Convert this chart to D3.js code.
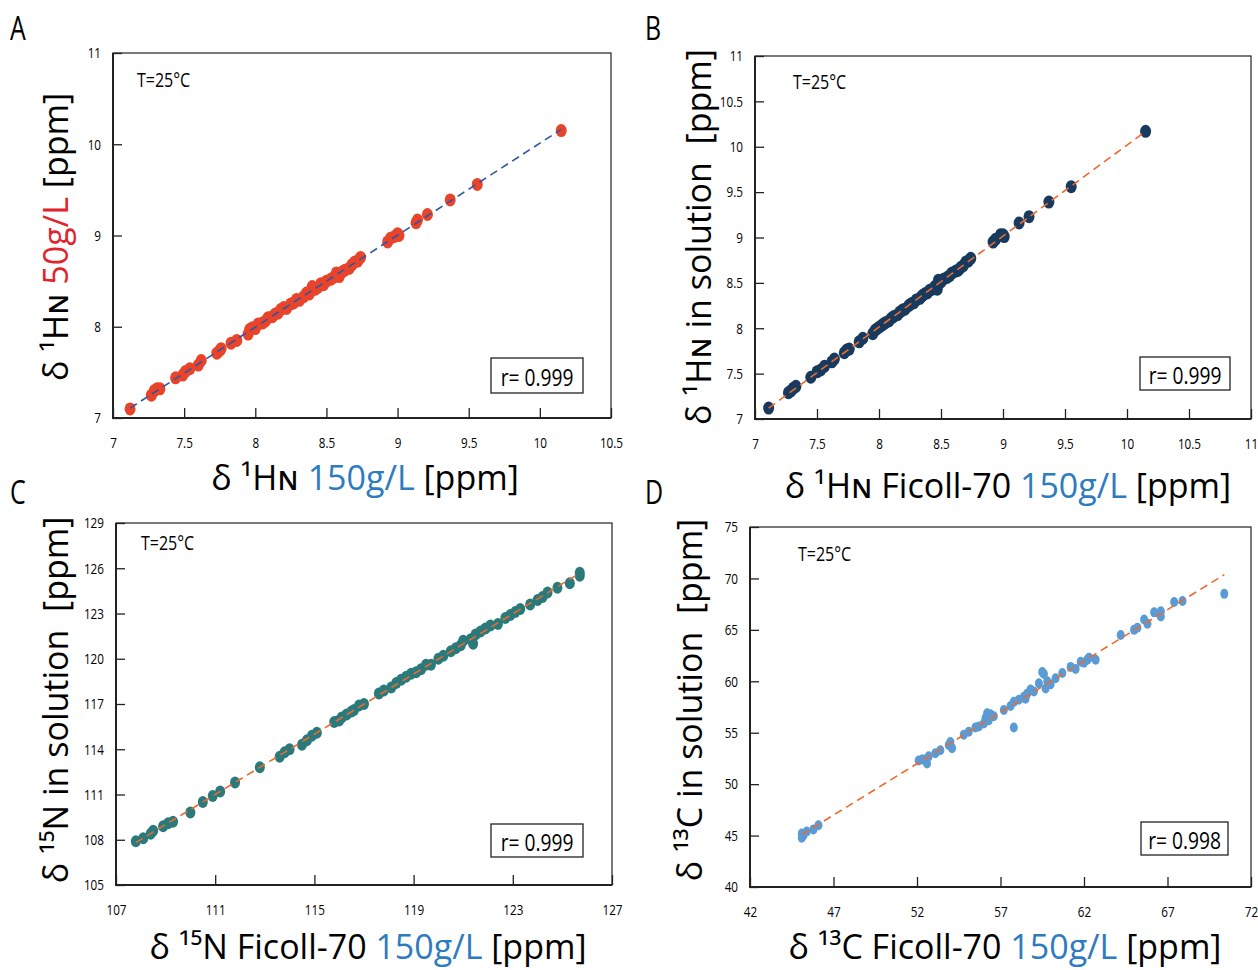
<!DOCTYPE html>
<html>
<head>
<meta charset="utf-8">
<script src="https://cdn.jsdelivr.net/npm/d3@7"></script>
<style>
  body { margin: 0; background: #fff; }
  svg { display: block; }
  .tick text { font-family: "Open Sans", "Noto Sans", sans-serif; font-size: 15px; fill: #000; }
  .big { font-family: "Open Sans", "Noto Sans", "DejaVu Sans", sans-serif; font-size: 34px; fill: #000; white-space: pre; }
  .small { font-family: "Open Sans", "Noto Sans", sans-serif; fill: #000; }
</style>
</head>
<body>
<div id="chart"></div>
<script>
// Panel A: delta 1HN at 150 g/L (x) vs 50 g/L (y)
var hA_x = [7.12, 7.27, 7.29, 7.31, 7.33, 7.44, 7.49, 7.51, 7.54, 7.60, 7.62, 7.73, 7.75, 7.76, 7.83, 7.87,
            7.95, 7.96, 7.98, 8.00, 8.02, 8.05, 8.07, 8.09, 8.12, 8.14, 8.16, 8.18, 8.20, 8.22, 8.25, 8.27,
            8.29, 8.31, 8.34, 8.36, 8.38, 8.40, 8.42, 8.44, 8.46, 8.48, 8.50, 8.53, 8.55, 8.57, 8.59, 8.61,
            8.63, 8.66, 8.68, 8.70, 8.72, 8.74, 8.93, 8.95, 8.98, 9.00, 9.01, 9.13, 9.14, 9.21, 9.37, 9.56, 10.15]
var hA_y = [7.10, 7.25, 7.30, 7.32, 7.32, 7.44, 7.47, 7.51, 7.54, 7.58, 7.63, 7.71, 7.74, 7.76, 7.82, 7.85,
            7.92, 7.97, 7.99, 7.98, 8.03, 8.04, 8.06, 8.10, 8.11, 8.14, 8.15, 8.19, 8.21, 8.20, 8.25, 8.26,
            8.30, 8.29, 8.33, 8.37, 8.36, 8.44, 8.41, 8.43, 8.47, 8.46, 8.50, 8.52, 8.54, 8.59, 8.55, 8.60,
            8.62, 8.64, 8.68, 8.71, 8.72, 8.76, 8.93, 8.97, 8.99, 9.02, 9.00, 9.14, 9.17, 9.23, 9.39, 9.56, 10.15]

// Panel B: delta 1HN in Ficoll-70 150 g/L (x) vs in solution (y)
var hB_x = [7.11, 7.27, 7.29, 7.31, 7.33, 7.45, 7.50, 7.53, 7.56, 7.62, 7.64, 7.72, 7.74, 7.76, 7.84, 7.87,
            7.95, 7.97, 7.99, 8.01, 8.03, 8.05, 8.08, 8.10, 8.12, 8.15, 8.17, 8.19, 8.21, 8.24, 8.26, 8.28,
            8.30, 8.33, 8.35, 8.37, 8.39, 8.41, 8.43, 8.45, 8.47, 8.48, 8.50, 8.52, 8.55, 8.57, 8.59, 8.62,
            8.64, 8.66, 8.68, 8.70, 8.72, 8.74, 8.92, 8.94, 8.98, 9.00, 9.01, 9.13, 9.21, 9.37, 9.55, 10.15]
var hB_y = [7.12, 7.29, 7.31, 7.34, 7.36, 7.46, 7.52, 7.54, 7.58, 7.63, 7.66, 7.73, 7.76, 7.77, 7.85, 7.89,
            7.94, 7.98, 8.00, 8.02, 8.04, 8.06, 8.08, 8.11, 8.13, 8.15, 8.18, 8.20, 8.21, 8.25, 8.27, 8.28,
            8.31, 8.33, 8.36, 8.38, 8.39, 8.42, 8.43, 8.46, 8.43, 8.53, 8.51, 8.54, 8.56, 8.58, 8.61, 8.63,
            8.64, 8.67, 8.69, 8.73, 8.74, 8.77, 8.95, 8.98, 9.03, 9.03, 9.01, 9.16, 9.23, 9.39, 9.56, 10.17]

// Panel C: delta 15N in Ficoll-70 150 g/L (x) vs in solution (y)
var n15_x = [107.8, 108.1, 108.4, 108.5, 108.9, 109.1, 109.3, 110.0, 110.5, 110.9, 111.2, 111.8, 112.8, 113.6,
             113.8, 114.0, 114.5, 114.7, 114.9, 115.1, 115.8, 116.0, 116.1, 116.3, 116.5, 116.6, 116.8, 117.0,
             117.6, 117.8, 118.1, 118.3, 118.5, 118.7, 118.9, 119.1, 119.3, 119.5, 119.7, 120.0, 120.2, 120.5,
             120.7, 120.9, 121.0, 121.3, 121.4, 121.5, 121.7, 121.9, 122.1, 122.4, 122.7, 122.9, 123.1, 123.3,
             123.7, 124.0, 124.2, 124.4, 124.8, 125.3, 125.7, 125.7]
var n15_y = [107.9, 108.1, 108.4, 108.6, 108.9, 109.1, 109.2, 109.8, 110.5, 110.9, 111.2, 111.8, 112.8, 113.5,
             113.8, 114.0, 114.3, 114.6, 114.9, 115.1, 115.8, 115.9, 116.1, 116.3, 116.5, 116.6, 116.9, 117.0,
             117.7, 117.9, 118.1, 118.4, 118.6, 118.8, 119.0, 119.1, 119.3, 119.6, 119.6, 120.0, 120.2, 120.5,
             120.7, 120.9, 121.2, 121.3, 121.0, 121.6, 121.8, 122.0, 122.2, 122.3, 122.7, 122.9, 123.1, 123.3,
             123.6, 123.9, 124.1, 124.4, 124.7, 125.0, 125.5, 125.7]

// Panel D: delta 13C in Ficoll-70 150 g/L (x) vs in solution (y)
var c13_x = [45.1, 45.1, 45.2, 45.4, 45.8, 46.1, 52.1, 52.3, 52.4, 52.6, 52.7, 53.1, 53.4, 53.9, 54.0, 54.1,
             54.8, 55.1, 55.5, 55.7, 56.0, 56.1, 56.2, 56.3, 56.4, 56.6, 57.2, 57.6, 57.8, 57.8, 58.1, 58.4,
             58.5, 58.6, 58.8, 59.0, 59.3, 59.5, 59.6, 59.7, 59.8, 60.0, 60.3, 60.7, 61.2, 61.5, 61.8, 62.0,
             62.2, 62.3, 62.7, 64.2, 65.0, 65.2, 65.6, 65.8, 66.2, 66.6, 66.6, 67.4, 67.9, 70.4]
var c13_y = [44.8, 45.2, 45.0, 45.4, 45.6, 46.0, 52.3, 52.4, 52.4, 52.0, 52.7, 53.0, 53.3, 53.8, 54.1, 53.5,
             54.8, 55.1, 55.5, 55.6, 55.9, 56.4, 56.9, 56.2, 56.8, 56.6, 57.2, 57.6, 58.0, 55.5, 58.2, 58.5,
             58.3, 58.8, 59.2, 59.0, 59.8, 60.9, 60.7, 59.3, 60.0, 59.7, 60.3, 60.8, 61.4, 61.2, 61.9, 61.8,
             62.1, 62.3, 62.1, 64.5, 65.0, 65.2, 66.0, 65.6, 66.7, 66.8, 66.3, 67.7, 67.8, 68.5]

var ticksA_x = [7, 7.5, 8, 8.5, 9, 9.5, 10, 10.5]
var ticksA_y = [7, 8, 9, 10, 11]
var ticksB = [7, 7.5, 8, 8.5, 9, 9.5, 10, 10.5, 11]
var ticksC_x = [107, 111, 115, 119, 123, 127]
var ticksC_y = [105, 108, 111, 114, 117, 120, 123, 126, 129]
var ticksD_x = [42, 47, 52, 57, 62, 67, 72]
var ticksD_y = [40, 45, 50, 55, 60, 65, 70, 75]

var rValues = ["r= 0.999", "r= 0.999", "r= 0.999", "r= 0.998"]

var width = 1258
var height = 970

var panels = [
    { letter: "A", lx: 10, ly: 40, box: { l: 113, r: 611, t: 53, b: 418 },
      xs: hA_x, ys: hA_y, xdom: [7, 10.5], ydom: [7, 11], xt: ticksA_x, yt: ticksA_y,
      dot: "#e9442a", rx: 5.5, ry: 6.5, line: "#2f55a3", r: rValues[0],
      tx: 137, ty: 87, rbox: [491, 358, 92, 35],
      ylab: [["δ ¹Hɴ ", "#000"], ["50g/L", "#e3232b"], [" [ppm]", "#000"]], ylx: 55, yly: 237,
      xlab: [["δ ¹Hɴ ", "#000"], ["150g/L", "#2e7bbf"], [" [ppm]", "#000"]], xlx: 365, xly: 490 },
    { letter: "B", lx: 645, ly: 40, box: { l: 755, r: 1251, t: 56, b: 419 },
      xs: hB_x, ys: hB_y, xdom: [7, 11], ydom: [7, 11], xt: ticksB, yt: ticksB,
      dot: "#173a5e", rx: 5.5, ry: 6.5, line: "#ed6a2e", r: rValues[1],
      tx: 793, ty: 89, rbox: [1140, 357, 90, 33],
      ylab: [["δ ¹Hɴ in solution  [ppm]", "#000"]], ylx: 698, yly: 237,
      xlab: [["δ ¹Hɴ Ficoll-70 ", "#000"], ["150g/L", "#2e7bbf"], [" [ppm]", "#000"]], xlx: 1008, xly: 498 },
    { letter: "C", lx: 10, ly: 504, box: { l: 116, r: 612, t: 523, b: 885 },
      xs: n15_x, ys: n15_y, xdom: [107, 127], ydom: [105, 129], xt: ticksC_x, yt: ticksC_y,
      dot: "#2b7a7b", rx: 5, ry: 6, line: "#ed6a2e", r: rValues[2],
      tx: 141, ty: 550, rbox: [491, 824, 92, 33],
      ylab: [["δ ¹⁵N in solution  [ppm]", "#000"]], ylx: 55, yly: 700,
      xlab: [["δ ¹⁵N Ficoll-70 ", "#000"], ["150g/L", "#2e7bbf"], [" [ppm]", "#000"]], xlx: 368, xly: 959 },
    { letter: "D", lx: 645, ly: 504, box: { l: 750, r: 1251, t: 527, b: 887 },
      xs: c13_x, ys: c13_y, xdom: [42, 72], ydom: [40, 75], xt: ticksD_x, yt: ticksD_y,
      dot: "#5b9bd5", rx: 4, ry: 5, line: "#ed6a2e", r: rValues[3],
      tx: 798, ty: 561, rbox: [1141, 822, 87, 33],
      ylab: [["δ ¹³C in solution  [ppm]", "#000"]], ylx: 689, yly: 700,
      xlab: [["δ ¹³C Ficoll-70 ", "#000"], ["150g/L", "#2e7bbf"], [" [ppm]", "#000"]], xlx: 1005, xly: 959 }
]

var svg = d3.select("#chart").append("svg")
    .attr("width", width)
    .attr("height", height)

// least squares fit for the dashed trend line
function fit(xs, ys) {
    var mx = d3.mean(xs), my = d3.mean(ys)
    var sxy = d3.sum(xs, (x, i) => (x - mx) * (ys[i] - my))
    var sxx = d3.sum(xs, x => (x - mx) * (x - mx))
    var b = sxy / sxx
    return { a: my - b * mx, b: b }
}

// the source figure uses a narrow face, squeeze text horizontally
function narrow(sel, x, y, k) {
    return sel.attr("transform", "translate(" + x + "," + y + ") scale(" + k + ",1)")
}

panels.forEach(function (p) {
    var x = d3.scaleLinear().domain(p.xdom).range([p.box.l, p.box.r])
    var y = d3.scaleLinear().domain(p.ydom).range([p.box.b, p.box.t])
    var g = svg.append("g")

    // panel letter
    narrow(g.append("text").attr("class", "small"), p.lx, p.ly, 0.78)
        .style("font-size", "32px")
        .text(p.letter)

    // axes with inward ticks
    g.append("g")
        .attr("transform", "translate(0," + p.box.b + ")")
        .call(d3.axisBottom(x).tickValues(p.xt).tickSizeInner(-10).tickSizeOuter(0).tickPadding(19)
            .tickFormat(d3.format("")))
        .call(a => a.select(".domain").remove())
        .call(a => a.selectAll(".tick line").attr("stroke", "#222").attr("stroke-width", 1.3))
        .call(a => a.selectAll(".tick text").attr("transform", "scale(0.78,1)")
            .attr("x", 0))

    g.append("g")
        .attr("transform", "translate(" + p.box.l + ",0)")
        .call(d3.axisLeft(y).tickValues(p.yt).tickSizeInner(-9).tickSizeOuter(0).tickPadding(13)
            .tickFormat(d3.format("")))
        .call(a => a.select(".domain").remove())
        .call(a => a.selectAll(".tick line").attr("stroke", "#222").attr("stroke-width", 1.3))
        .call(a => a.selectAll(".tick text").attr("transform", "translate(-12,0) scale(0.78,1)")
            .attr("x", 0))

    // plot frame
    g.append("rect")
        .attr("x", p.box.l).attr("y", p.box.t)
        .attr("width", p.box.r - p.box.l).attr("height", p.box.b - p.box.t)
        .attr("fill", "none").attr("stroke", "#222").attr("stroke-width", 1.2)
    g.append("path")
        .attr("d", "M" + p.box.l + "," + p.box.t + "V" + p.box.b + "H" + p.box.r)
        .attr("fill", "none").attr("stroke", "#222").attr("stroke-width", 2)

    // points
    var pts = p.xs.map((v, i) => [v, p.ys[i]])
    g.selectAll("ellipse.pt")
        .data(pts)
        .enter()
        .append("ellipse")
        .attr("cx", d => x(d[0]))
        .attr("cy", d => y(d[1]))
        .attr("rx", p.rx)
        .attr("ry", p.ry)
        .attr("fill", p.dot)

    // trend line
    var f = fit(p.xs, p.ys)
    var ext = d3.extent(p.xs)
    g.append("line")
        .attr("x1", x(ext[0])).attr("y1", y(f.a + f.b * ext[0]))
        .attr("x2", x(ext[1])).attr("y2", y(f.a + f.b * ext[1]))
        .attr("stroke", p.line).attr("stroke-width", 1.6)
        .attr("stroke-dasharray", "8,5")

    // temperature note
    narrow(g.append("text").attr("class", "small"), p.tx, p.ty, 0.8)
        .style("font-size", "20px")
        .text("T=25°C")

    // correlation box
    g.append("rect")
        .attr("x", p.rbox[0]).attr("y", p.rbox[1])
        .attr("width", p.rbox[2]).attr("height", p.rbox[3])
        .attr("fill", "#fff").attr("stroke", "#222").attr("stroke-width", 1.3)
    narrow(g.append("text").attr("class", "small"), p.rbox[0] + p.rbox[2] / 2, p.rbox[1] + p.rbox[3] / 2 + 1, 0.8)
        .attr("text-anchor", "middle").attr("dominant-baseline", "central")
        .style("font-size", "24px")
        .text(p.r)

    // axis titles
    var xt = g.append("text").attr("class", "big")
        .attr("x", p.xlx).attr("y", p.xly)
        .attr("text-anchor", "middle")
    p.xlab.forEach(s => xt.append("tspan").attr("fill", s[1]).text(s[0]))

    var yt = g.append("text").attr("class", "big")
        .attr("transform", "translate(" + p.ylx + "," + p.yly + ") rotate(-90)")
        .attr("text-anchor", "middle")
        .attr("dominant-baseline", "central")
    p.ylab.forEach(s => yt.append("tspan").attr("fill", s[1]).text(s[0]))
})
</script>
</body>
</html>
